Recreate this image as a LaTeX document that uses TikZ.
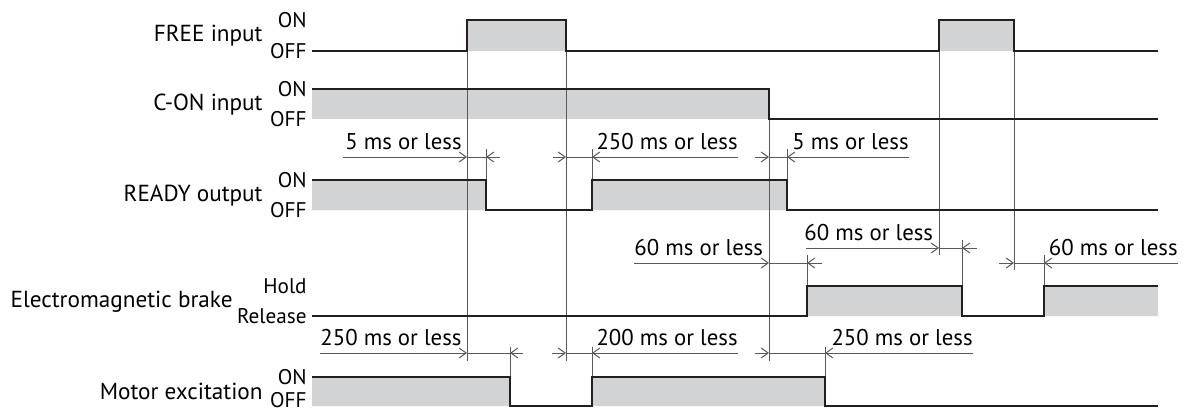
\documentclass[tikz,border=0pt]{standalone}
\usepackage{fontspec}
\setmainfont{PT Sans}
\usetikzlibrary{arrows.meta}
\definecolor{levelgray}{HTML}{D1D3D4}
\definecolor{ink}{HTML}{231F20}
\tikzset{
  sig/.style   ={draw=ink,line width=1pt},
  guide/.style ={draw=black!65,line width=.5pt},
  dim/.style   ={-{Straight Barb[length=3.5pt,width=5pt]},draw=black!65,line width=.5pt},
  lbl/.style   ={anchor=east,font=\fontsize{11.6}{13}\selectfont,inner sep=0pt},
  st/.style    ={anchor=east,font=\fontsize{10.6}{12}\selectfont,inner sep=0pt},
  tm/.style    ={font=\fontsize{11.4}{13}\selectfont,inner sep=0pt},
}
% row, left edge, right edge, left tail, right tail
\newcommand{\timedim}[5]{%
  \draw[dim] (#4,#1) -- (#2,#1);
  \draw[guide] (#2,#1) -- (#3,#1);
  \draw[dim] (#5,#1) -- (#3,#1);}

\begin{document}
\begin{tikzpicture}[x=0.5pt,y=-0.5pt]
  \useasboundingbox (0,0) rectangle (1192,412);
  % signal names
  \node[lbl] (free)  at (263,36)  {FREE input};
  \node[lbl] (con)   at (263,105) {C-ON input};
  \node[lbl] (ready) at (263,196) {READY output};
  \node[lbl] (brake) at (233,302) {Electromagnetic brake};
  \node[lbl] (motor) at (263,391) {Motor excitation};
  \node[st] (freeon)  at (307,20)  {ON};   \node[st] (freeoff)  at (307,51)  {OFF};
  \node[st] (conon)   at (307,89)  {ON};   \node[st] (conoff)   at (307,119) {OFF};
  \node[st] (readyon) at (307,180) {ON};   \node[st] (readyoff) at (307,210) {OFF};
  \node[st] (hold)    at (307,286) {Hold}; \node[st] (release)  at (307,316) {Release};
  \node[st] (motoron) at (307,377) {ON};   \node[st] (motoroff) at (307,400) {OFF};

  % shaded levels
  \fill[levelgray] (467,20) rectangle (566,51) (939,20) rectangle (1014,51);
  \fill[levelgray] (312,89) rectangle (769,119);
  \fill[levelgray] (312,180) rectangle (486,210) (592,180) rectangle (787,210);
  \fill[levelgray] (807,286) rectangle (962,316) (1044,286) rectangle (1158,316);
  \fill[levelgray] (312,377) rectangle (510,406) (592,377) rectangle (825,406);

  % guide lines
  \draw[guide] (467,20) -- (467,361);
  \draw[guide] (566,20) -- (566,361);
  \draw[guide] (769,89) -- (769,361);
  \draw[guide] (939,20) -- (939,255);
  \draw[guide] (1014,20) -- (1014,270);
  \draw[guide] (486,149) -- (486,180) (592,149) -- (592,180) (787,149) -- (787,180);
  \draw[guide] (807,255) -- (807,286) (962,240) -- (962,286) (1044,255) -- (1044,286);
  \draw[guide] (510,347) -- (510,377) (592,347) -- (592,377) (825,347) -- (825,377);

  % signals
  \draw[sig] (312,51) -- (467,51) -- (467,20) -- (566,20) -- (566,51) -- (939,51)
             -- (939,20) -- (1014,20) -- (1014,51) -- (1158,51);
  \draw[sig] (312,89) -- (769,89) -- (769,119) -- (1158,119);
  \draw[sig] (312,180) -- (486,180) -- (486,210) -- (592,210) -- (592,180) -- (787,180)
             -- (787,210) -- (1158,210);
  \draw[sig] (312,316) -- (807,316) -- (807,286) -- (962,286) -- (962,316) -- (1044,316)
             -- (1044,286) -- (1158,286);
  \draw[sig] (312,377) -- (510,377) -- (510,406) -- (592,406) -- (592,377) -- (825,377)
             -- (825,406) -- (1158,406);

  % timing
  \timedim{157}{467}{486}{343}{500}
  \timedim{157}{566}{592}{553}{738}
  \timedim{157}{769}{787}{755}{909}
  \timedim{263}{769}{807}{634}{822}
  \timedim{248}{939}{962}{806}{977}
  \timedim{263}{1014}{1044}{999}{1178}
  \timedim{353}{467}{510}{320}{523}
  \timedim{353}{566}{592}{552}{738}
  \timedim{353}{769}{825}{755}{973}
  \node[tm,anchor=base west] (t1) at (345,149) {5 ms or less};
  \node[tm,anchor=base east] (t2) at (738,149) {250 ms or less};
  \node[tm,anchor=base east] (t3) at (909,149) {5 ms or less};
  \node[tm,anchor=base west] (t4) at (634,255) {60 ms or less};
  \node[tm,anchor=base west] (t5) at (804,240) {60 ms or less};
  \node[tm,anchor=base east] (t6) at (1178,255) {60 ms or less};
  \node[tm,anchor=base west] (t7) at (320,345) {250 ms or less};
  \node[tm,anchor=base east] (t8) at (738,345) {200 ms or less};
  \node[tm,anchor=base east] (t9) at (973,345) {250 ms or less};
\end{tikzpicture}
\end{document}
